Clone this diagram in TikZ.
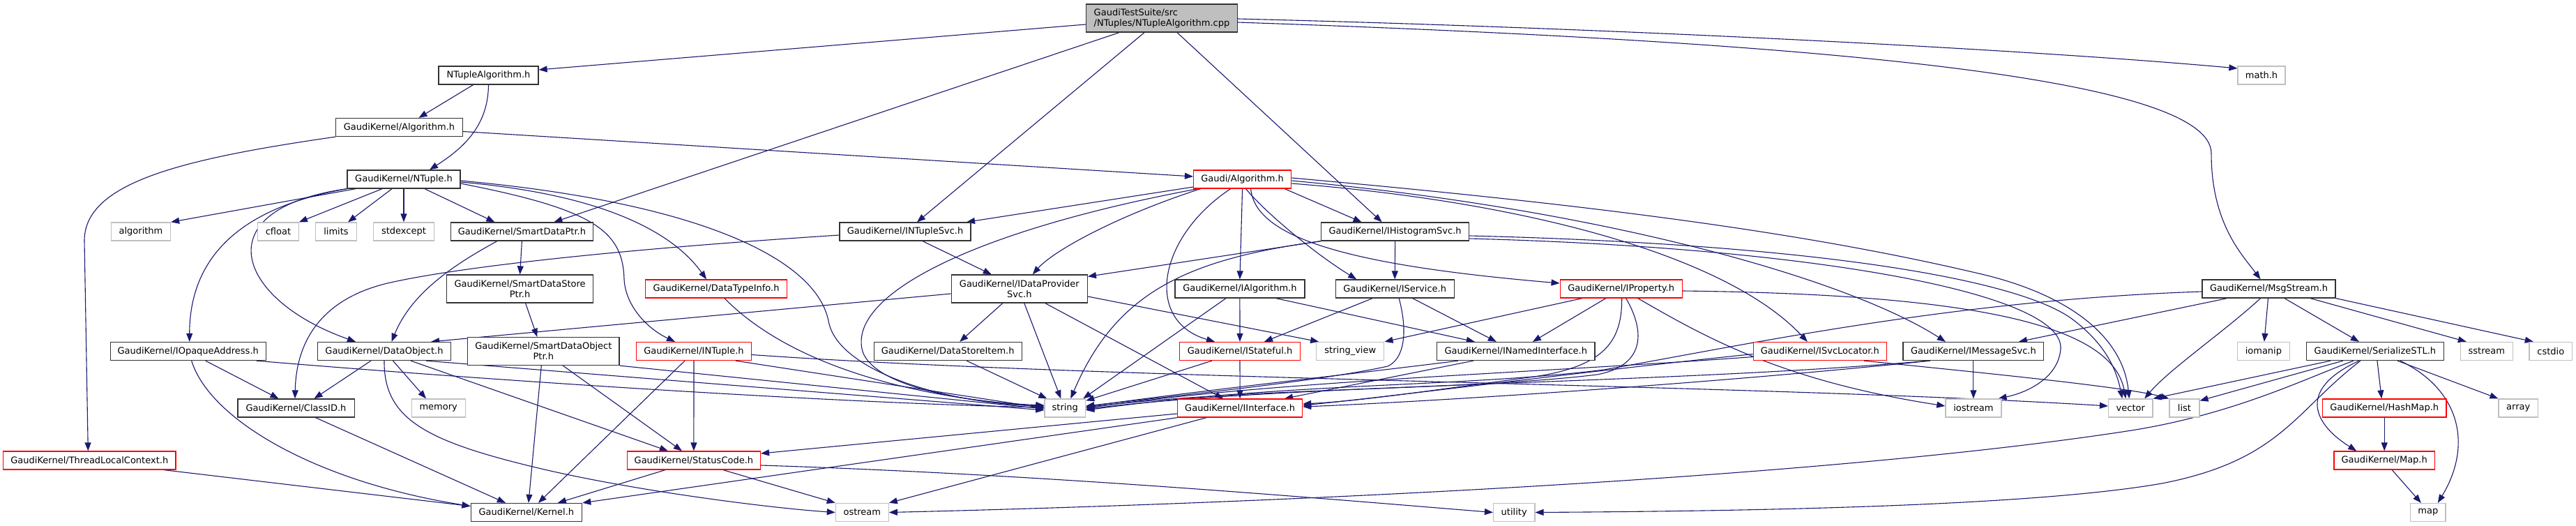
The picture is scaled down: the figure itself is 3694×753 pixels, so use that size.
\documentclass[tikz,border=0pt]{standalone}
\usepackage{fontspec}
\setmainfont{DejaVu Sans}
\usetikzlibrary{arrows.meta}
\definecolor{edgec}{HTML}{191970}
\definecolor{boxc}{HTML}{333333}
\definecolor{grayc}{HTML}{BFBFBF}
\definecolor{redc}{HTML}{FF0000}
\definecolor{rootc}{HTML}{BFBFBF}
\pgfdeclarelayer{bg}
\pgfsetlayers{bg,main}
\tikzset{
  nd/.style={draw=boxc, line width=1.3pt, fill=white, inner sep=0pt, minimum height=26pt,
    font=\fontsize{13}{15}\selectfont, text=black, align=center},
  rd/.style={nd, draw=redc},
  sy/.style={nd, draw=grayc},
  tall/.style={minimum height=40pt},
  e/.style={draw=edgec, color=edgec, line width=1.1pt, -{Triangle[length=12pt,width=9pt]}},
}
\begin{document}
\begin{tikzpicture}[x=1pt,y=-1pt]
\useasboundingbox (0,0) rectangle (3694,753);
\begin{pgfonlayer}{bg}
\fill[white] (0,0) rectangle (3694,753);
\end{pgfonlayer}
% ---------------- nodes ----------------
\node[nd, tall, fill=rootc, align=left, minimum width=217pt] (main) at (1666,26) {GaudiTestSuite/src\\/NTuples/NTupleAlgorithm.cpp};
\node[nd, minimum width=143pt] (nta) at (700.5,108) {NTupleAlgorithm.h};
\node[sy, minimum width=68pt] (mathh) at (3243,108) {math.h};
\node[nd, minimum width=182pt] (gkalg) at (572.5,182.5) {GaudiKernel/Algorithm.h};
\node[nd, minimum width=162pt] (ntuple) at (579,257) {GaudiKernel/NTuple.h};
\node[rd, minimum width=140pt] (galg) at (1781.6,257) {Gaudi/Algorithm.h};
\node[sy, minimum width=85pt] (algorithm) at (202,332) {algorithm};
\node[sy, minimum width=58.5pt] (cfloat) at (399,332) {cfloat};
\node[sy, minimum width=59pt] (limits) at (482,332) {limits};
\node[sy, minimum width=87pt] (stdexcept) at (579,332) {stdexcept};
\node[nd, minimum width=204pt] (sdptr) at (748.4,332) {GaudiKernel/SmartDataPtr.h};
\node[nd, minimum width=188pt] (ntsvc) at (1298,332) {GaudiKernel/INTupleSvc.h};
\node[nd, minimum width=212pt] (histsvc) at (2000.6,332) {GaudiKernel/IHistogramSvc.h};
\node[nd, tall, minimum width=210pt] (sdsptr) at (745.6,414) {GaudiKernel/SmartDataStore\\Ptr.h};
\node[rd, minimum width=203pt] (dtinfo) at (1027,414) {GaudiKernel/DataTypeInfo.h};
\node[nd, tall, minimum width=195pt] (dpsvc) at (1461.8,414) {GaudiKernel/IDataProvider\\Svc.h};
\node[nd, minimum width=186pt] (ialg) at (1777.9,414) {GaudiKernel/IAlgorithm.h};
\node[nd, minimum width=170pt] (isvc) at (2000.2,414) {GaudiKernel/IService.h};
\node[rd, minimum width=175pt] (iprop) at (2324.7,414) {GaudiKernel/IProperty.h};
\node[nd, minimum width=191pt] (msgs) at (3253.5,414) {GaudiKernel/MsgStream.h};
\node[nd, minimum width=223pt] (iopaque) at (269.7,503.5) {GaudiKernel/IOpaqueAddress.h};
\node[nd, minimum width=191pt] (dobj) at (551,503.5) {GaudiKernel/DataObject.h};
\node[nd, tall, minimum width=217.5pt] (sdoptr) at (779.3,503.5) {GaudiKernel/SmartDataObject\\Ptr.h};
\node[rd, minimum width=165pt] (intuple) at (995,503.5) {GaudiKernel/INTuple.h};
\node[nd, minimum width=212pt] (dsitem) at (1359.2,503.5) {GaudiKernel/DataStoreItem.h};
\node[rd, minimum width=173pt] (istate) at (1778,503.5) {GaudiKernel/IStateful.h};
\node[sy, minimum width=97pt] (strview) at (1936.3,503.5) {string\_view};
\node[nd, minimum width=226.6pt] (inamed) at (2173.8,503.5) {GaudiKernel/INamedInterface.h};
\node[rd, minimum width=191pt] (isvcloc) at (2609.8,503.5) {GaudiKernel/ISvcLocator.h};
\node[nd, minimum width=201.7pt] (imsg) at (2829.9,503.5) {GaudiKernel/IMessageSvc.h};
\node[sy, minimum width=75pt] (iomanip) at (3245.9,503.5) {iomanip};
\node[nd, minimum width=196.7pt] (sstl) at (3405.9,503.5) {GaudiKernel/SerializeSTL.h};
\node[sy, minimum width=75pt] (sstream) at (3565.8,503.5) {sstream};
\node[sy, minimum width=61.6pt] (cstdio) at (3657.8,503.5) {cstdio};
\node[nd, minimum width=167.3pt] (classid) at (424.5,585) {GaudiKernel/ClassID.h};
\node[sy, minimum width=77pt] (memory) at (628.7,585) {memory};
\node[sy, minimum width=58.5pt] (string) at (1527.3,585) {string};
\node[rd, minimum width=179pt] (iiface) at (1778.1,585) {GaudiKernel/IInterface.h};
\node[sy, minimum width=80pt] (iostream) at (2829.9,585) {iostream};
\node[sy, minimum width=63.4pt] (vector) at (3055.3,585) {vector};
\node[sy, minimum width=43pt] (list) at (3132.4,585) {list};
\node[rd, minimum width=177.4pt] (hashmap) at (3419.2,585) {GaudiKernel/HashMap.h};
\node[sy, minimum width=56.3pt] (array) at (3611.2,585) {array};
\node[rd, minimum width=247.2pt] (tlc) at (128.3,660) {GaudiKernel/ThreadLocalContext.h};
\node[rd, minimum width=191pt] (status) at (994.9,660) {GaudiKernel/StatusCode.h};
\node[rd, minimum width=144.5pt] (maph) at (3419.2,660) {GaudiKernel/Map.h};
\node[nd, minimum width=159.4pt] (kernel) at (754.9,734.5) {GaudiKernel/Kernel.h};
\node[sy, minimum width=75.8pt] (ostream) at (1236.3,734.5) {ostream};
\node[sy, minimum width=59.3pt] (utility) at (2171.2,734.5) {utility};
\node[sy, minimum width=50.5pt] (mapn) at (3481.8,734.5) {map};
% ---------------- edges ----------------
\begin{pgfonlayer}{bg}
% main
\draw[e] ([yshift=-9pt]main.west) -- ([yshift=8pt]nta.east);
\draw[e] ([yshift=-1pt]main.east) .. controls (2300,40) and (2900,70) .. ([yshift=10pt]mathh.west);
\draw[e] ([xshift=-61pt]main.south) -- ([xshift=46pt]sdptr.north);
\draw[e] ([xshift=-25pt]main.south) -- ([xshift=17pt]ntsvc.north);
\draw[e] ([xshift=22pt]main.south) -- ([xshift=-19pt]histsvc.north);
\draw[e] ([yshift=-6pt]main.east) .. controls (2600,60) and (3171,110) .. (3171,220) .. controls (3171,320) and (3215,365) .. ([xshift=-12pt]msgs.north);
% NTupleAlgorithm.h
\draw[e] ([xshift=-22pt]nta.south) -- ([xshift=28pt]gkalg.north);
\draw[e] (nta.south) .. controls (700,180) and (665,212) .. ([xshift=37pt]ntuple.north);
% GaudiKernel/Algorithm.h
\draw[e] ([yshift=-6pt]gkalg.east) -- ([yshift=4pt]galg.west);
\draw[e] (gkalg.south west) .. controls (260,228) and (121,262) .. (121,345) -- ([xshift=-2pt]tlc.north);
% NTuple.h
\draw[e] ([xshift=-69pt]ntuple.south) -- (algorithm.north east);
\draw[e] ([xshift=-31pt]ntuple.south) -- (cfloat.north east);
\draw[e] ([xshift=-17pt]ntuple.south) -- ([xshift=17pt]limits.north);
\draw[e] (ntuple.south) -- (stdexcept.north);
\draw[e] ([xshift=30pt]ntuple.south) -- ([xshift=-39pt]sdptr.north);
\draw[e] (ntuple.south west) .. controls (330,300) and (272,380) .. ([xshift=2pt]iopaque.north);
\draw[e] (ntuple.south west) .. controls (290,300) and (340,430) .. ([xshift=-41pt]dobj.north);
\draw[e] ([yshift=-6pt]ntuple.east) .. controls (850,300) and (893,330) .. (895,400) .. controls (897,440) and (930,472) .. ([xshift=-27pt]intuple.north);
\draw[e] ([yshift=-4pt]ntuple.east) .. controls (880,280) and (970,340) .. ([xshift=-14pt]dtinfo.north);
\draw[e] ([yshift=-2pt]ntuple.east) .. controls (1000,290) and (1170,370) .. (1188,460) .. controls (1200,530) and (1350,578) .. ([yshift=3pt]string.west);
% SmartDataPtr
\draw[e] (sdptr.south) -- (sdsptr.north);
\draw[e] ([xshift=-35.6pt]sdptr.south) .. controls (650,380) and (590,420) .. ([xshift=10.5pt]dobj.north);
\draw[e] ([xshift=8pt]sdsptr.south) -- ([xshift=-9pt]sdoptr.north);
% SmartDataObjectPtr
\draw[e] ([xshift=-3pt]sdoptr.south) -- ([xshift=3pt]kernel.north);
\draw[e] ([xshift=28pt]sdoptr.south) -- ([xshift=-17pt]status.north);
\draw[e] (sdoptr.south east) -- ([yshift=-1pt]string.west);
% DataTypeInfo
\draw[e] ([xshift=12pt]dtinfo.south) .. controls (1110,500) and (1250,565) .. ([yshift=2pt]string.west);
% DataObject
\draw[e] ([xshift=-19pt]dobj.south) -- ([xshift=26pt]classid.north);
\draw[e] ([xshift=12.5pt]dobj.south) -- ([xshift=-17.7pt]memory.north);
\draw[e] ([xshift=38pt]dobj.south) -- ([xshift=-37pt]status.north);
\draw[e] ([xshift=60pt]dobj.south) -- ([yshift=-3pt]string.west);
\draw[e] (dobj.south) .. controls (550,600) and (610,632) .. (768,670) .. controls (900,702) and (1100,728) .. (ostream.west);
% IOpaqueAddress
\draw[e] ([xshift=25pt]iopaque.south) -- ([xshift=-25pt]classid.north);
\draw[e] ([xshift=5pt]iopaque.south) .. controls (300,600) and (450,690) .. ([yshift=9pt]kernel.west);
\draw[e] ([xshift=98pt]iopaque.south) .. controls (700,545) and (1200,578) .. ([yshift=1pt]string.west);
% ClassID, ThreadLocalContext
\draw[e] ([xshift=28pt]classid.south) -- ([xshift=-30pt]kernel.north);
\draw[e] ([xshift=107pt]tlc.south) -- ([yshift=9pt]kernel.west);
% INTuple
\draw[e] ([xshift=-13pt]intuple.south) -- ([xshift=17pt]kernel.north);
\draw[e] (intuple.south) -- (status.north);
\draw[e] ([xshift=60pt]intuple.south) -- (string.west);
\draw[e] ([yshift=-5pt]intuple.east) .. controls (1600,545) and (2500,550) .. ([yshift=3pt]vector.west);
% StatusCode
\draw[e] ([xshift=-41pt]status.south) -- ([xshift=45pt]kernel.north);
\draw[e] ([xshift=42pt]status.south) -- (ostream.north west);
\draw[e] ([yshift=-7pt]status.east) .. controls (1500,680) and (1900,715) .. (utility.west);
% IInterface
\draw[e] ([yshift=-8pt]iiface.west) -- ([yshift=10pt]status.east);
\draw[e] (iiface.south west) -- (kernel.north east);
\draw[e] ([xshift=-48pt]iiface.south) -- (ostream.north east);
% IStateful
\draw[e] (istate.south) -- (iiface.north);
\draw[e] ([xshift=-40pt]istate.south) -- ([yshift=-3pt]string.north east);
% IAlgorithm
\draw[e] (ialg.south) -- (istate.north);
\draw[e] ([xshift=-20pt]ialg.south) -- ([xshift=-4pt]string.north east);
\draw[e] ([xshift=52pt]ialg.south) -- ([xshift=-59pt]inamed.north);
% IService
\draw[e] ([xshift=-32pt]isvc.south) -- ([xshift=35pt]istate.north);
\draw[e] ([xshift=25.5pt]isvc.south) -- ([xshift=-28pt]inamed.north);
\draw[e] ([xshift=6pt]isvc.south) .. controls (2020,480) and (2012,515) .. (1990,525) .. controls (1900,545) and (1700,566) .. ([yshift=3pt]string.east);
% INamedInterface
\draw[e] ([xshift=-61pt]inamed.south) -- ([xshift=64pt]iiface.north);
\draw[e] ([xshift=-83pt]inamed.south) .. controls (1950,535) and (1720,560) .. ([yshift=2pt]string.east);
% IProperty
\draw[e] ([xshift=-56pt]iprop.south) -- (strview.north east);
\draw[e] ([xshift=-22pt]iprop.south) -- ([xshift=24pt]inamed.north);
\draw[e] ([xshift=1pt]iprop.south) .. controls (2326,490) and (2300,525) .. (2200,540) .. controls (2050,560) and (1950,575) .. ([yshift=6pt]iiface.east);
\draw[e] ([xshift=7pt]iprop.south) .. controls (2362,480) and (2355,525) .. (2290,537) .. controls (2100,560) and (1800,555) .. ([yshift=1pt]string.east);
\draw[e] ([xshift=24pt]iprop.south) .. controls (2440,480) and (2550,545) .. ([yshift=3pt]iostream.west);
\draw[e] ([yshift=-3pt]iprop.east) .. controls (2850,422) and (3030,470) .. ([xshift=-7pt]vector.north);
% ISvcLocator
\draw[e] ([yshift=-4pt]isvcloc.west) .. controls (2250,535) and (2000,568) .. ([yshift=4pt]iiface.east);
\draw[e] ([yshift=-8pt]isvcloc.west) .. controls (2200,535) and (1840,545) .. (string.east);
\draw[e] ([xshift=63pt]isvcloc.south) .. controls (2850,535) and (3050,555) .. (list.north west);
% IMessageSvc
\draw[e] (imsg.south) -- (iostream.north);
\draw[e] ([xshift=-62pt]imsg.south) .. controls (2400,555) and (2000,578) .. ([yshift=2pt]iiface.east);
\draw[e] ([xshift=-65pt]imsg.south) .. controls (2400,550) and (1850,550) .. ([yshift=-1.5pt]string.east);
% MsgStream
\draw[e] ([yshift=-4pt]msgs.west) .. controls (2800,430) and (2500,495) .. (2300,530) .. controls (2100,555) and (1850,548) .. ([yshift=-3pt]string.east);
\draw[e] ([xshift=-60pt]msgs.south) -- ([xshift=65pt]imsg.north);
\draw[e] ([xshift=-12pt]msgs.south) .. controls (3190,475) and (3110,530) .. ([xshift=20pt]vector.north);
\draw[e] ([xshift=-1pt]msgs.south) -- ([xshift=1pt]iomanip.north);
\draw[e] ([xshift=22.5pt]msgs.south) -- ([xshift=-23pt]sstl.north);
\draw[e] ([xshift=59.5pt]msgs.south) -- ([xshift=-29pt]sstream.north);
\draw[e] (msgs.south east) -- ([xshift=-25pt]cstdio.north);
% SerializeSTL
\draw[e] ([xshift=-64pt]sstl.south) -- (vector.north east);
\draw[e] ([xshift=-46pt]sstl.south) -- ([yshift=-3pt]list.north east);
\draw[e] ([xshift=-31pt]sstl.south) .. controls (3300,545) and (3200,595) .. (3050,618) .. controls (2600,687) and (1800,722) .. (ostream.east);
\draw[e] ([xshift=-21pt]sstl.south) .. controls (3290,590) and (3270,660) .. (3100,693) .. controls (2900,728) and (2450,733) .. (utility.east);
\draw[e] ([xshift=-23pt]sstl.south) .. controls (3290,560) and (3321,610) .. ([xshift=-40pt]maph.north);
\draw[e] ([xshift=3pt]sstl.south) -- ([xshift=-4pt]hashmap.north);
\draw[e] ([xshift=32pt]sstl.south) -- (array.north west);
\draw[e] ([xshift=36pt]sstl.south) .. controls (3530,560) and (3545,640) .. ([xshift=14pt]mapn.north);
\draw[e] (hashmap.south) -- (maph.north);
\draw[e] ([xshift=11pt]maph.south) -- ([xshift=-10pt]mapn.north);
% DataStoreItem
\draw[e] ([xshift=27pt]dsitem.south) -- ([xshift=-26pt]string.north);
% IDataProviderSvc
\draw[e] ([xshift=-24pt]dpsvc.south) -- ([xshift=17pt]dsitem.north);
\draw[e] ([xshift=7pt]dpsvc.south) -- ([xshift=-6pt]string.north);
\draw[e] ([xshift=37pt]dpsvc.south) -- ([xshift=-24pt]iiface.north);
\draw[e] ([yshift=-7pt]dpsvc.west) -- ([xshift=67pt]dobj.north);
\draw[e] ([yshift=-11pt]dpsvc.east) -- ([xshift=4pt]strview.north west);
% INTupleSvc
\draw[e] ([xshift=25pt]ntsvc.south) -- ([xshift=-40pt]dpsvc.north);
\draw[e] ([yshift=-5pt]ntsvc.west) .. controls (850,360) and (650,385) .. (560,405) .. controls (470,425) and (425,480) .. ([xshift=-1.5pt]classid.north);
% Gaudi/Algorithm.h
\draw[e] ([yshift=-11pt]galg.west) -- ([xshift=88pt]ntsvc.north);
\draw[e] ([xshift=-64pt]galg.south) .. controls (1400,330) and (1220,420) .. (1236,500) .. controls (1245,545) and (1350,575) .. ([yshift=4pt]string.west);
\draw[e] ([xshift=-60pt]galg.south) .. controls (1600,310) and (1510,360) .. ([xshift=19pt]dpsvc.north);
\draw[e] ([xshift=-17pt]galg.south) .. controls (1660,340) and (1640,460) .. ([xshift=-36pt]istate.north);
\draw[e] (galg.south) -- (ialg.north);
\draw[e] ([xshift=5pt]galg.south) .. controls (1810,300) and (1880,360) .. ([xshift=-55pt]isvc.north);
\draw[e] ([xshift=12pt]galg.south) .. controls (1800,340) and (1930,380) .. ([yshift=8pt]iprop.west);
\draw[e] ([xshift=-10pt]galg.south east) -- ([xshift=-48pt]histsvc.north);
\draw[e] ([yshift=-6pt]galg.east) .. controls (2200,290) and (2480,370) .. ([xshift=-18pt]isvcloc.north);
\draw[e] ([yshift=-2pt]galg.east) .. controls (2300,300) and (2650,400) .. ([xshift=-40pt]imsg.north);
\draw[e] ([yshift=2pt]galg.east) .. controls (2300,295) and (2600,335) .. (2850,395) .. controls (2980,428) and (3045,490) .. ([xshift=-2pt]vector.north);
% IHistogramSvc
\draw[e] (histsvc.south west) -- ([yshift=-3pt]dpsvc.north east);
\draw[e] (histsvc.south west) .. controls (1700,372) and (1600,420) .. ([xshift=8pt]string.north);
\draw[e] (histsvc.south) -- (isvc.north);
\draw[e] ([yshift=-10pt]histsvc.east) .. controls (2600,355) and (2960,420) .. (2955,500) .. controls (2952,540) and (2910,562) .. ([xshift=-5pt]iostream.north east);
\draw[e] ([yshift=-6pt]histsvc.east) .. controls (2600,350) and (2900,400) .. (2975,460) .. controls (3020,495) and (3035,530) .. ([xshift=-12pt]vector.north);
\end{pgfonlayer}
\end{tikzpicture}
\end{document}
